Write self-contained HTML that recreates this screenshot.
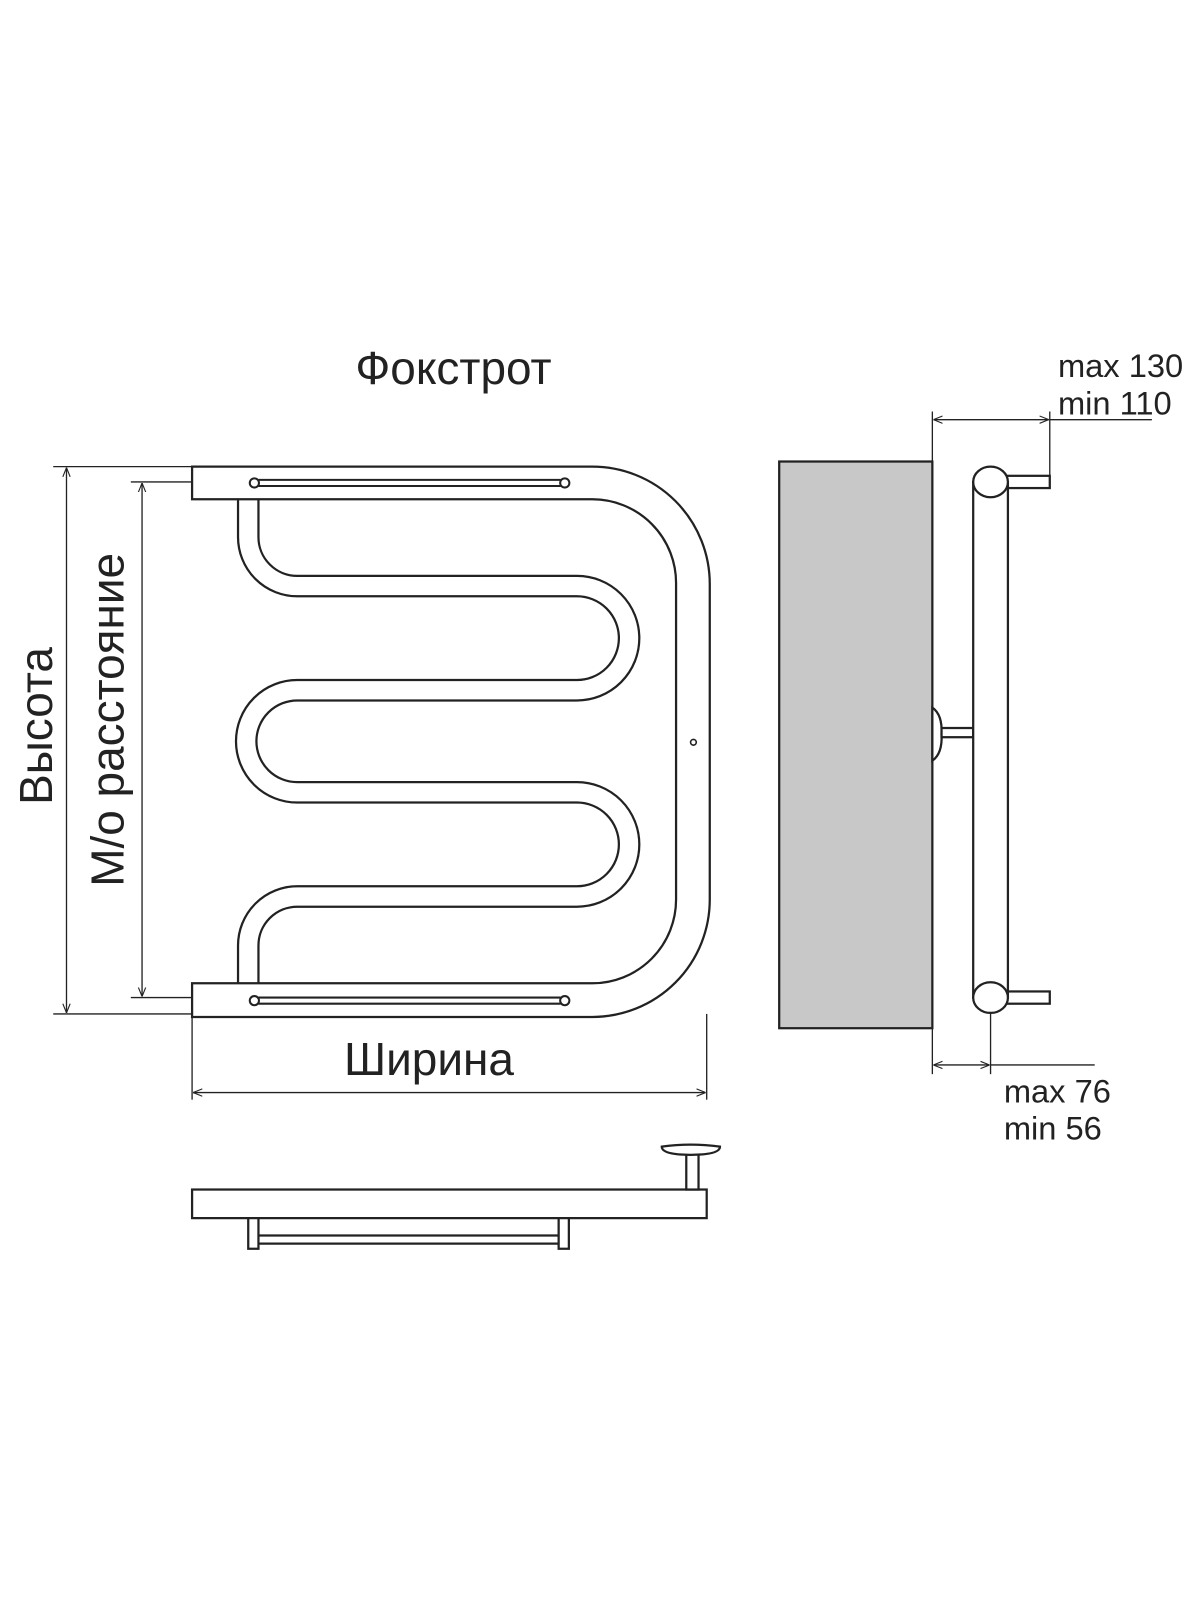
<!DOCTYPE html>
<html><head><meta charset="utf-8"><style>
html,body{margin:0;padding:0;background:#fff;}
svg{display:block}
text{font-family:"Liberation Sans",sans-serif;fill:#222}
</style></head><body>
<svg width="1200" height="1600" viewBox="0 0 1175 1567" xmlns="http://www.w3.org/2000/svg">
<defs>
<marker id="a" viewBox="0 0 10 10" refX="10" refY="5" markerWidth="9" markerHeight="9" orient="auto-start-reverse" markerUnits="userSpaceOnUse"><path d="M0,1 L10,5 L0,9" fill="none" stroke="#222" stroke-width="1.2"/></marker>
</defs>
<g fill="none" stroke="#222" stroke-width="2.2">
<path d="M188,457 H580 A115,115 0 0 1 695,572 V881 A115,115 0 0 1 580,996 H188 V963 H580 A82,82 0 0 0 662,881 V572 A82,82 0 0 0 580,489 H188 Z"/>
<path d="M233,489 V526 A58,58 0 0 0 291,584 H565 A41,41 0 0 1 565,666 H291 A60,60 0 0 0 291,786 H565 A41,41 0 0 1 565,868 H291 A58,58 0 0 0 233,926 V963"/>
<path d="M253,489 V526 A38,38 0 0 0 291,564 H565 A61,61 0 0 1 565,686 H291 A40,40 0 0 0 291,766 H565 A61,61 0 0 1 565,888 H291 A38,38 0 0 0 253,926 V963"/>
</g>
<g fill="#fff" stroke="#222" stroke-width="2">
<line x1="253" y1="470" x2="549" y2="470"/><line x1="253" y1="476" x2="549" y2="476"/>
<line x1="253" y1="977" x2="549" y2="977"/><line x1="253" y1="983" x2="549" y2="983"/>
<circle cx="249" cy="473" r="4.5"/><circle cx="553" cy="473" r="4.5"/>
<circle cx="249" cy="980" r="4.5"/><circle cx="553" cy="980" r="4.5"/>
<circle cx="679" cy="727" r="2.8" stroke-width="1.6"/>
</g>
<g stroke="#222" stroke-width="1.3" fill="none">
<line x1="52" y1="457" x2="188" y2="457"/><line x1="52" y1="993" x2="188" y2="993"/>
<line x1="65" y1="458" x2="65" y2="992" marker-start="url(#a)" marker-end="url(#a)"/>
<line x1="128" y1="472" x2="188" y2="472"/><line x1="128" y1="977" x2="188" y2="977"/>
<line x1="139" y1="473" x2="139" y2="976" marker-start="url(#a)" marker-end="url(#a)"/>
<line x1="188" y1="996" x2="188" y2="1077"/><line x1="692" y1="993" x2="692" y2="1077"/>
<line x1="189" y1="1070" x2="691" y2="1070" marker-start="url(#a)" marker-end="url(#a)"/>
<line x1="913" y1="403" x2="913" y2="452"/><line x1="1028" y1="403" x2="1028" y2="478"/>
<line x1="914" y1="411" x2="1027" y2="411" marker-start="url(#a)" marker-end="url(#a)"/>
<line x1="1028" y1="411" x2="1128" y2="411"/>
<line x1="913" y1="1007" x2="913" y2="1052"/><line x1="970" y1="992" x2="970" y2="1052"/>
<line x1="914" y1="1043" x2="969" y2="1043" marker-start="url(#a)" marker-end="url(#a)"/>
<line x1="970" y1="1043" x2="1072" y2="1043"/>
</g>
<text x="444" y="376" font-size="45" text-anchor="middle">Фокстрот</text>
<text x="420" y="1053" font-size="45" text-anchor="middle">Ширина</text>
<text transform="translate(51,711) rotate(-90)" font-size="45" text-anchor="middle">Высота</text>
<text transform="translate(121,705) rotate(-90)" font-size="45" text-anchor="middle">М/о расстояние</text>
<text x="1036" y="369" font-size="32">max 130</text>
<text x="1036" y="406" font-size="32">min 110</text>
<text x="983" y="1080" font-size="32">max 76</text>
<text x="983" y="1116" font-size="32">min 56</text>
<g stroke="#222" stroke-width="2.2">
<rect x="763" y="452" width="150" height="555" fill="#c8c8c8"/>
<path d="M913,693 Q923,700 922,719 Q923,738 913,745 Z" fill="#fff"/>
<rect x="922" y="713" width="31" height="9" fill="#fff"/>
<rect x="985" y="466" width="43" height="12" fill="#fff"/>
<rect x="985" y="971" width="43" height="12" fill="#fff"/>
<rect x="953" y="472" width="34" height="505" fill="#fff"/>
<ellipse cx="970" cy="472" rx="17" ry="15" fill="#fff"/>
<ellipse cx="970" cy="977" rx="17" ry="15" fill="#fff"/>
</g>
<g stroke="#222" stroke-width="2.2" fill="#fff">
<rect x="243" y="1190" width="10" height="33"/>
<rect x="547" y="1190" width="10" height="33"/>
<line x1="253" y1="1210" x2="547" y2="1210"/><line x1="253" y1="1218" x2="547" y2="1218"/>
<rect x="188" y="1165" width="504" height="28"/>
<rect x="672" y="1130" width="12" height="35"/>
<path d="M648,1123 Q676,1119 705,1123 Q705,1131 676,1131 Q648,1131 648,1123 Z"/>
</g>
</svg>
</body></html>
